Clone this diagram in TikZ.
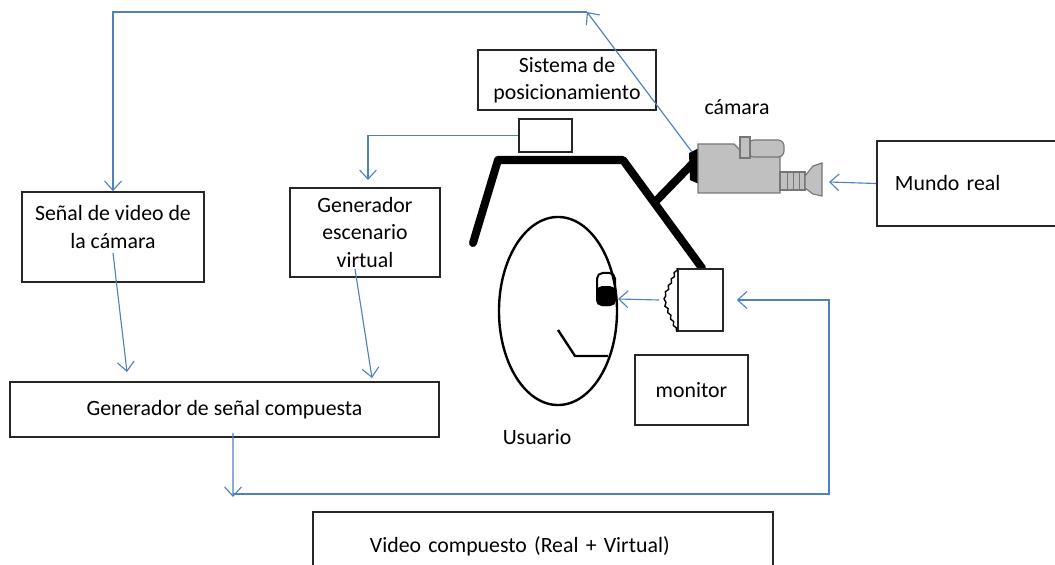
\documentclass[tikz,border=0pt]{standalone}
\usepackage{fontspec}
\setmainfont{Carlito}
\usetikzlibrary{arrows.meta,decorations.pathmorphing}
\definecolor{linkblue}{RGB}{79,129,189}
\definecolor{camgray}{RGB}{192,192,192}
\definecolor{camedge}{RGB}{118,118,118}

\begin{document}
\begin{tikzpicture}[
    x=0.025cm, y=-0.025cm,
    every node/.style={font=\fontsize{15.5}{19.3}\selectfont, align=center},
    box/.style={rectangle, draw=black!85, line width=1.2pt, inner sep=0pt},
    arr/.style={-{Straight Barb[length=2.3mm, width=4.2mm]}, linkblue, line width=0.8pt},
    rig/.style={line width=2mm, line cap=round, line join=round},
    cam/.style={fill=camgray, draw=camedge, line width=0.8pt}
]
\useasboundingbox (0,0) rectangle (1055,565);

% head-mounted rig
\draw[rig] (473,243) -- (498,160) -- (623,160) -- (702,268);
\draw[rig] (657,200) -- (695,161);

% blocks
\node[box, minimum width=4.55cm, minimum height=2.25cm] (senal) at (113,237) {};
\node (senaltxt) at (113,227) {Señal de video de\\la cámara};
\node[box, minimum width=3.75cm, minimum height=2.225cm] (esc) at (365,232.5) {Generador\\escenario\\virtual};
\node[box, minimum width=4.45cm, minimum height=1.5cm] (pos) at (567,80) {Sistema de\\posicionamiento};
\node[box, line width=2pt, minimum width=1.325cm, minimum height=0.825cm] (sensor) at (545.5,135.5) {};
\node[box, minimum width=10.725cm, minimum height=1.375cm] (comp) at (224.5,409.5) {Generador de señal compuesta};
\node[box, minimum height=2.125cm, text width=3.8cm, inner xsep=0.45cm, align=left] (mundo) at (971,183.5) {Mundo real};
\node[box, minimum height=1.7cm, text width=8.65cm, inner xsep=1.425cm, align=left] (video) at (543,546) {Video compuesto (Real + Virtual)};
\node[box, minimum width=2.825cm, minimum height=1.75cm] (monitor) at (691.5,390) {monitor};
\node[box, fill=white, minimum width=1.125cm, minimum height=1.55cm] (disp) at (700.5,300) {};
\draw[line width=1pt, decorate, decoration={zigzag, amplitude=0.7pt, segment length=5pt}]
    (disp.north west) -- (665,295) -- (665,304) -- (disp.south west);
\node (camlbl) at (737,107) {cámara};
\node (usuario) at (537,437) {Usuario};

% user
\draw[line width=0.6mm] (558,311) ellipse [x radius=1.475cm, y radius=2.35cm];
\node[draw, line width=0.5mm, rounded corners=4pt, minimum width=0.45cm, minimum height=0.8cm, inner sep=0pt] (ojo) at (606,289) {};
\fill[rounded corners=4pt] ([yshift=2pt]ojo.west) rectangle (ojo.south east);
\draw[line width=0.6mm] (558,330) -- (575,356) -- (608,356);

% camera
\fill (689,153) -- (699,148) -- (699,184) -- (690,180) -- cycle;
\filldraw[cam] (698,144) -- (734,144) -- (742,152) -- (780,152) -- (780,193) -- (698,193) -- cycle;
\filldraw[cam, rounded corners=0.15cm] (748,140) -- (784,140) -- (784,157) -- (748,157) -- cycle;
\filldraw[cam] (740,137) rectangle (750,158);
\filldraw[cam] (780,172) rectangle (805,190);
\foreach \rx in {787,793,799}
    \draw[camedge, line width=0.6pt] (\rx,172) -- (\rx,190);
\filldraw[cam] (805,176) -- (813,166) -- (822,163) -- (822,196) -- (813,194) -- (805,188) -- cycle;
\coordinate (camtop) at (692,152);
\coordinate (lente) at (822,182);

% signal paths
\coordinate (turn) at (587,12);
\draw[arr] (camtop) -- (turn);
\draw[arr] (turn) -| (senal.north);
\coordinate (escin) at (368,180);
\draw[arr] (sensor.west) -| (escin);
\coordinate (sumin1) at (127,372);
\draw[arr] (senaltxt.south) -- (sumin1);
\coordinate (sumin2) at (372,378);
\draw[arr] ([shift={(-10,-9)}]esc.south) -- (sumin2);
\coordinate (compout) at (233,497);
\draw[arr] ([shift={(8.5,-5)}]comp.south) -- (compout);
\coordinate (loopa) at (233,494);
\coordinate (loopb) at (829,494);
\draw[arr] (loopa) -- (loopb) |- ([shift={(13,0)}]disp.east);
\draw[arr] ([shift={(-18,0)}]disp.west) -- ([shift={(2,10)}]ojo.east);
\draw[arr] (mundo.west) -- ([shift={(7,0)}]lente);
\end{tikzpicture}
\end{document}
